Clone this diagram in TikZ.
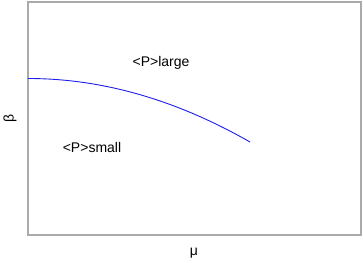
\documentclass[tikz,border=0pt]{standalone}
\usepackage{fontspec}
\setmainfont{Liberation Sans}
\usetikzlibrary{positioning}
\definecolor{framegray}{RGB}{170,170,170}
\definecolor{curveblue}{RGB}{30,30,235}

\begin{document}
\begin{tikzpicture}[x=1pt,y=1pt,font=\fontsize{14}{16}\selectfont]
    \useasboundingbox (0,0) rectangle (363,262);
    \draw[framegray,line width=1.2pt] (28,27) rectangle (361,260);
    \draw[curveblue,line width=0.9pt] (28,183.5) .. controls (102,183.5) and (176,162.3) .. (250,120);
    \node (large) at (161,199) {<P>large};
    \node (small) at (92,115) {<P>small};
    \node[rotate=90] (ylab) at (10,144) {β};
    \node (xlab) at (194,9) {μ};
  \end{tikzpicture}
\end{document}
